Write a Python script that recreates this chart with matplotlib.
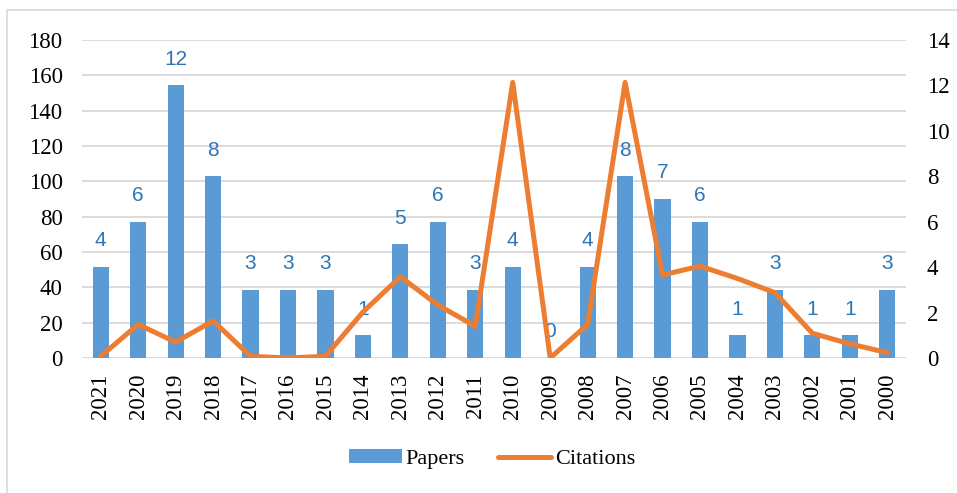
import matplotlib
matplotlib.use("Agg")
import matplotlib.pyplot as plt
from matplotlib.patches import Rectangle, Patch
from matplotlib.lines import Line2D
import numpy as np

years = ["2021", "2020", "2019", "2018", "2017", "2016", "2015", "2014", "2013", "2012", "2011",
         "2010", "2009", "2008", "2007", "2006", "2005", "2004", "2003", "2002", "2001", "2000"]
papers = [4, 6, 12, 8, 3, 3, 3, 1, 5, 6, 3, 4, 0, 4, 8, 7, 6, 1, 3, 1, 1, 3]
citations = [1, 19, 9, 21, 1, 0, 1, 26, 46, 30, 18, 156, 0, 19, 156, 47, 52, 45, 37, 14, 8, 3]
left_ticks = list(range(0, 181, 20))
right_ticks = list(range(0, 15, 2))

serif = ["Liberation Serif", "DejaVu Serif"]
bar_color = "#5B9BD5"
line_color = "#ED7D31"
label_color = "#2E75B6"
grid_color = "#D9D9D9"

fig = plt.figure(figsize=(9.57, 4.93), dpi=100)
fig.patch.set_facecolor("white")
# chart border
fig.add_artist(Rectangle((7 / 957, -0.1), 1.2, (493 - 10) / 493 + 0.1, transform=fig.transFigure,
                         fill=False, edgecolor="#D9D9D9", linewidth=1.2))

pos = [82 / 957, 1 - 358 / 493, (906 - 82) / 957, (358 - 40) / 493]
ax = fig.add_axes(pos)
x = np.arange(len(years))

# Base axis: left scale (citations) with grid
ax.set_ylim(0, 180)
ax.set_yticks(left_ticks)
ax.set_xlim(-0.5, len(years) - 0.5)
ax.set_xticks(x)
ax.set_xticklabels(years, rotation=90, fontfamily=serif, fontsize=16.5)
ax.grid(axis="y", color=grid_color, linewidth=1.3)
ax.set_axisbelow(True)
for s in ax.spines.values():
    s.set_visible(False)
ax.tick_params(axis="both", length=0)
ax.tick_params(axis="y", pad=14)
ax.tick_params(axis="x", pad=11)
for t in ax.get_yticklabels():
    t.set_fontfamily(serif)
    t.set_fontsize(16.5)

# Bars on right axis (papers)
ax2 = ax.twinx()
ax2.patch.set_visible(False)
ax2.bar(x, papers, width=0.43, color=bar_color, zorder=2)
ax2.set_ylim(0, 14)
ax2.set_yticks(right_ticks)
for s in ax2.spines.values():
    s.set_visible(False)
ax2.tick_params(axis="y", length=0, pad=15)
for t in ax2.get_yticklabels():
    t.set_fontfamily(serif)
    t.set_fontsize(16.5)
for xi, p in zip(x, papers):
    ax2.annotate(str(p), (xi, p), xytext=(0, 12), textcoords="offset points",
                 ha="center", va="bottom", color=label_color,
                 fontfamily=["Liberation Sans", "DejaVu Sans"], fontsize=15)

# Line on left scale (citations)
ax3 = ax.twinx()
ax3.patch.set_visible(False)
ax3.plot(x, citations, color=line_color, linewidth=3.6, solid_joinstyle="round",
         solid_capstyle="round", zorder=3)
ax3.set_ylim(0, 180)
ax3.set_yticks([])
for s in ax3.spines.values():
    s.set_visible(False)

handles = [Patch(facecolor=bar_color, edgecolor="none"),
           Line2D([0], [0], color=line_color, linewidth=3.6, solid_capstyle="round")]
fig.legend(handles, ["Papers", "Citations"], loc="center", bbox_to_anchor=(0.514, 1 - 459 / 493),
           ncol=2, frameon=False, prop={"family": serif, "size": 16},
           handlelength=2.4, handleheight=0.55, handletextpad=0.15, columnspacing=1.5)

fig.savefig("out.png", dpi=100, facecolor="white")
